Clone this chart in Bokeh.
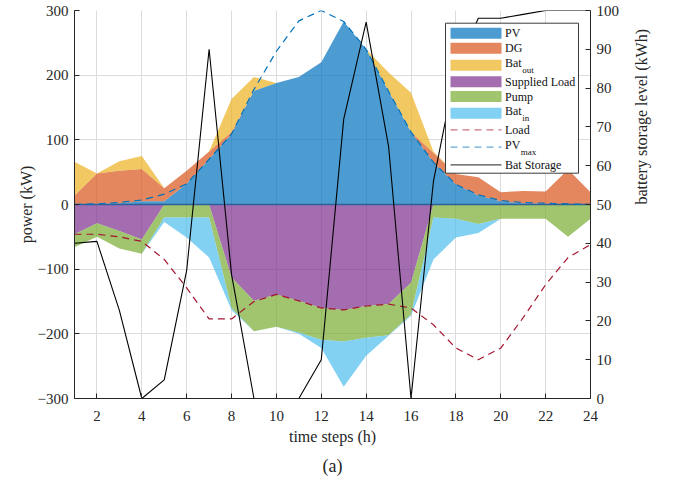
import math
import numpy as np
from bokeh.plotting import figure
from bokeh.models import Range1d, LinearAxis, FixedTicker, Title
from bokeh.embed import file_html
from bokeh.resources import INLINE
from bokeh.core.properties import value

# ---------------- data ----------------
t = list(range(1, 25))
pv = [0, 1, 2, 5, 5, 32, 70, 109, 176, 188, 197, 220, 283, 240, 175, 112, 65, 31, 14, 5, 2, 1, 0, 0]
dg = [14, 47, 50, 50, 20, 20, 12, 3, 0, 0, 0, 0, 0, 0, 0, 0, 15, 16, 28, 14, 19, 19, 54, 19]
bat_out = [52, 0, 15, 20, 0, 0, 0, 51, 21, 0, 0, 0, 0, 0, 29, 61, 2, 0, 0, 0, 0, 0, 0, 0]
supplied_load = [46, 29, 41, 54, 0, 0, 0, 113, 149, 139, 149, 160, 163, 157, 154, 121, 0, 0, 0, 0, 0, 0, 0, 0]
pump = [20, 21, 27, 22, 20, 20, 20, 47, 47, 50, 49, 49, 49, 49, 48, 49, 20, 22, 30, 22, 22, 22, 50, 22]
bat_in = [0, 0, 0, 0, 7, 31, 62, 3, 0, 0, 2, 13, 70, 28, 1, 2, 65, 29, 14, 0, 0, 0, 0, 0]
load = [46, 46, 50, 57, 85, 129, 177, 177, 150, 139, 149, 160, 163, 157, 154, 160, 186, 222, 240, 222, 175, 124, 82, 62]
pv_max = [0, 1, 3, 7, 16, 32, 70, 109, 178, 237, 284, 300, 283, 240, 175, 112, 65, 31, 15, 6, 3, 2, 1, 0]
bat_storage = [40, 40.5, 22.7, 0, 4.8, 33, 90, 32, 0, 0, 0, 10, 72, 97, 65, 0, 56, 85, 98, 98, 99, 100, 100, 100]

x_ticks = [2, 4, 6, 8, 10, 12, 14, 16, 18, 20, 22, 24]
power_ticks = [-300, -200, -100, 0, 100, 200, 300]
storage_ticks = [0, 10, 20, 30, 40, 50, 60, 70, 80, 90, 100]

legend_labels = ["PV", "DG", "Bat", "Supplied Load", "Pump", "Bat", "Load", "PV", "Bat Storage"]
legend_subs = {2: "out", 5: "in", 7: "max"}

# ---------------- styles ----------------
FONT = "Liberation Serif"
C_PV, C_DG, C_BO = "#0072BD", "#D95319", "#EDB120"
C_SL, C_PU, C_BI = "#7E2F8E", "#77AC30", "#4DBEEE"
C_LOAD = "#A2142F"
AX = "#262626"
ALPHA = 0.7

FW, FH = 516, 388
X0, X1 = 1, 24
Y0, Y1 = -300, 300

p = figure(frame_width=FW, frame_height=FH,
           x_range=Range1d(X0, X1), y_range=Range1d(Y0, Y1),
           output_backend="svg", toolbar_location=None,
           min_border_left=74, min_border_right=86,
           min_border_top=10, min_border_bottom=89)
p.outline_line_color = None
p.background_fill_color = "white"
p.border_fill_color = "white"
p.extra_y_ranges = {"bat": Range1d(0, 100)}

# grid
p.xgrid.ticker = FixedTicker(ticks=x_ticks)
p.ygrid.ticker = FixedTicker(ticks=power_ticks)
p.grid.grid_line_color = "#DCDCDC"
p.grid.grid_line_width = 1

def style_axis(ax):
    ax.axis_line_color = AX
    ax.major_tick_line_color = AX
    ax.major_tick_in = 5
    ax.major_tick_out = 0
    ax.minor_tick_line_color = None
    ax.major_label_text_font = FONT
    ax.major_label_text_font_size = "15px"
    ax.major_label_text_color = AX
    ax.axis_label_text_font = FONT
    ax.axis_label_text_font_size = "16px"
    ax.axis_label_text_font_style = "normal"
    ax.axis_label_text_color = AX

p.xaxis.ticker = FixedTicker(ticks=x_ticks)
p.yaxis.ticker = FixedTicker(ticks=power_ticks)
p.xaxis.axis_label = "time steps (h)"
p.yaxis.axis_label = "power (kW)"
style_axis(p.xaxis[0])
style_axis(p.yaxis[0])
p.xaxis.major_label_standoff = 12
p.xaxis.axis_label_standoff = 4
p.yaxis.major_label_standoff = 6
p.yaxis.axis_label_standoff = 0

rax = LinearAxis(y_range_name="bat", ticker=FixedTicker(ticks=storage_ticks),
                 axis_label="battery storage level (kWh)")
style_axis(rax)
rax.major_label_standoff = 6
rax.axis_label_standoff = 19
if "axis_label_orientation" in rax.properties():
    rax.axis_label_orientation = math.pi / 2
p.add_layout(rax, "right")

# ---------------- stacked areas ----------------
tt = np.array(t, dtype=float)
s1 = np.array(pv, float)
s2 = s1 + np.array(dg, float)
s3 = s2 + np.array(bat_out, float)
n1 = -np.array(supplied_load, float)
n2 = n1 - np.array(pump, float)
n3 = n2 - np.array(bat_in, float)
zero = np.zeros_like(tt)

p.varea(x=tt, y1=zero, y2=s1, fill_color=C_PV, fill_alpha=ALPHA)
p.varea(x=tt, y1=s1, y2=s2, fill_color=C_DG, fill_alpha=ALPHA)
p.varea(x=tt, y1=s2, y2=s3, fill_color=C_BO, fill_alpha=ALPHA)
p.varea(x=tt, y1=zero, y2=n1, fill_color=C_SL, fill_alpha=ALPHA)
p.varea(x=tt, y1=n1, y2=n2, fill_color=C_PU, fill_alpha=ALPHA)
p.varea(x=tt, y1=n2, y2=n3, fill_color=C_BI, fill_alpha=ALPHA)
p.line(tt, zero, line_color="#2F5F98", line_width=1.5)

# lines
p.line(tt, -np.array(load, float), line_color=C_LOAD, line_width=1.2, line_dash="7 5")
p.line(tt, np.array(pv_max, float), line_color=C_PV, line_width=1.2, line_dash="7 5")
p.line(tt, np.array(bat_storage, float), y_range_name="bat", line_color="black", line_width=1.1)

# ---------------- legend (drawn manually, frame-relative pixels) ----------------
def lx(px):
    return X0 + px * (X1 - X0) / FW

def ly(py):
    return Y1 - py * (Y1 - Y0) / FH

p.quad(left=[lx(371)], right=[lx(504)], top=[ly(12.7)], bottom=[ly(162.7)],
       fill_color="white", line_color="#3A3A3A", line_width=1)
rows = [22.7, 37.7, 54.7, 71.3, 86.0, 102.7, 119.3, 136.7, 154.3]
patch_cols = [C_PV, C_DG, C_BO, C_SL, C_PU, C_BI]
for i, c in enumerate(patch_cols):
    p.quad(left=[lx(376)], right=[lx(427)], top=[ly(rows[i] - 5.5)], bottom=[ly(rows[i] + 5.5)],
           fill_color=c, fill_alpha=ALPHA, line_color=None)
p.line([lx(376), lx(427)], [ly(rows[6])] * 2, line_color=C_LOAD, line_alpha=0.6, line_width=1.2, line_dash="7 5")
p.line([lx(376), lx(427)], [ly(rows[7])] * 2, line_color=C_PV, line_alpha=0.6, line_width=1.2, line_dash="7 5")
p.line([lx(376), lx(427)], [ly(rows[8])] * 2, line_color="black", line_alpha=0.7, line_width=1.2)

main_y = [ly(r - (2 if i in legend_subs else 0)) for i, r in enumerate(rows)]
p.text(x=[lx(430.5)] * len(legend_labels), y=main_y, text=legend_labels,
       text_font=value(FONT), text_font_size=value("12px"), text_color="#111111",
       text_baseline="middle", text_align="left")
sub_idx = list(legend_subs.keys())
sub_off = {2: 17.2, 5: 17.2, 7: 15.8}
p.text(x=[lx(430.5 + sub_off[i]) for i in sub_idx], y=[ly(rows[i] + 5) for i in sub_idx],
       text=[legend_subs[i] for i in sub_idx],
       text_font=value(FONT), text_font_size=value("9px"), text_color="#111111",
       text_baseline="middle", text_align="left")

# caption
cap = Title(text="(a)", align="center", text_font=FONT, text_font_size="18px",
            text_font_style="normal", text_color=AX, standoff=13)
p.add_layout(cap, "below")

open("out.html", "w").write(file_html(p, INLINE))
